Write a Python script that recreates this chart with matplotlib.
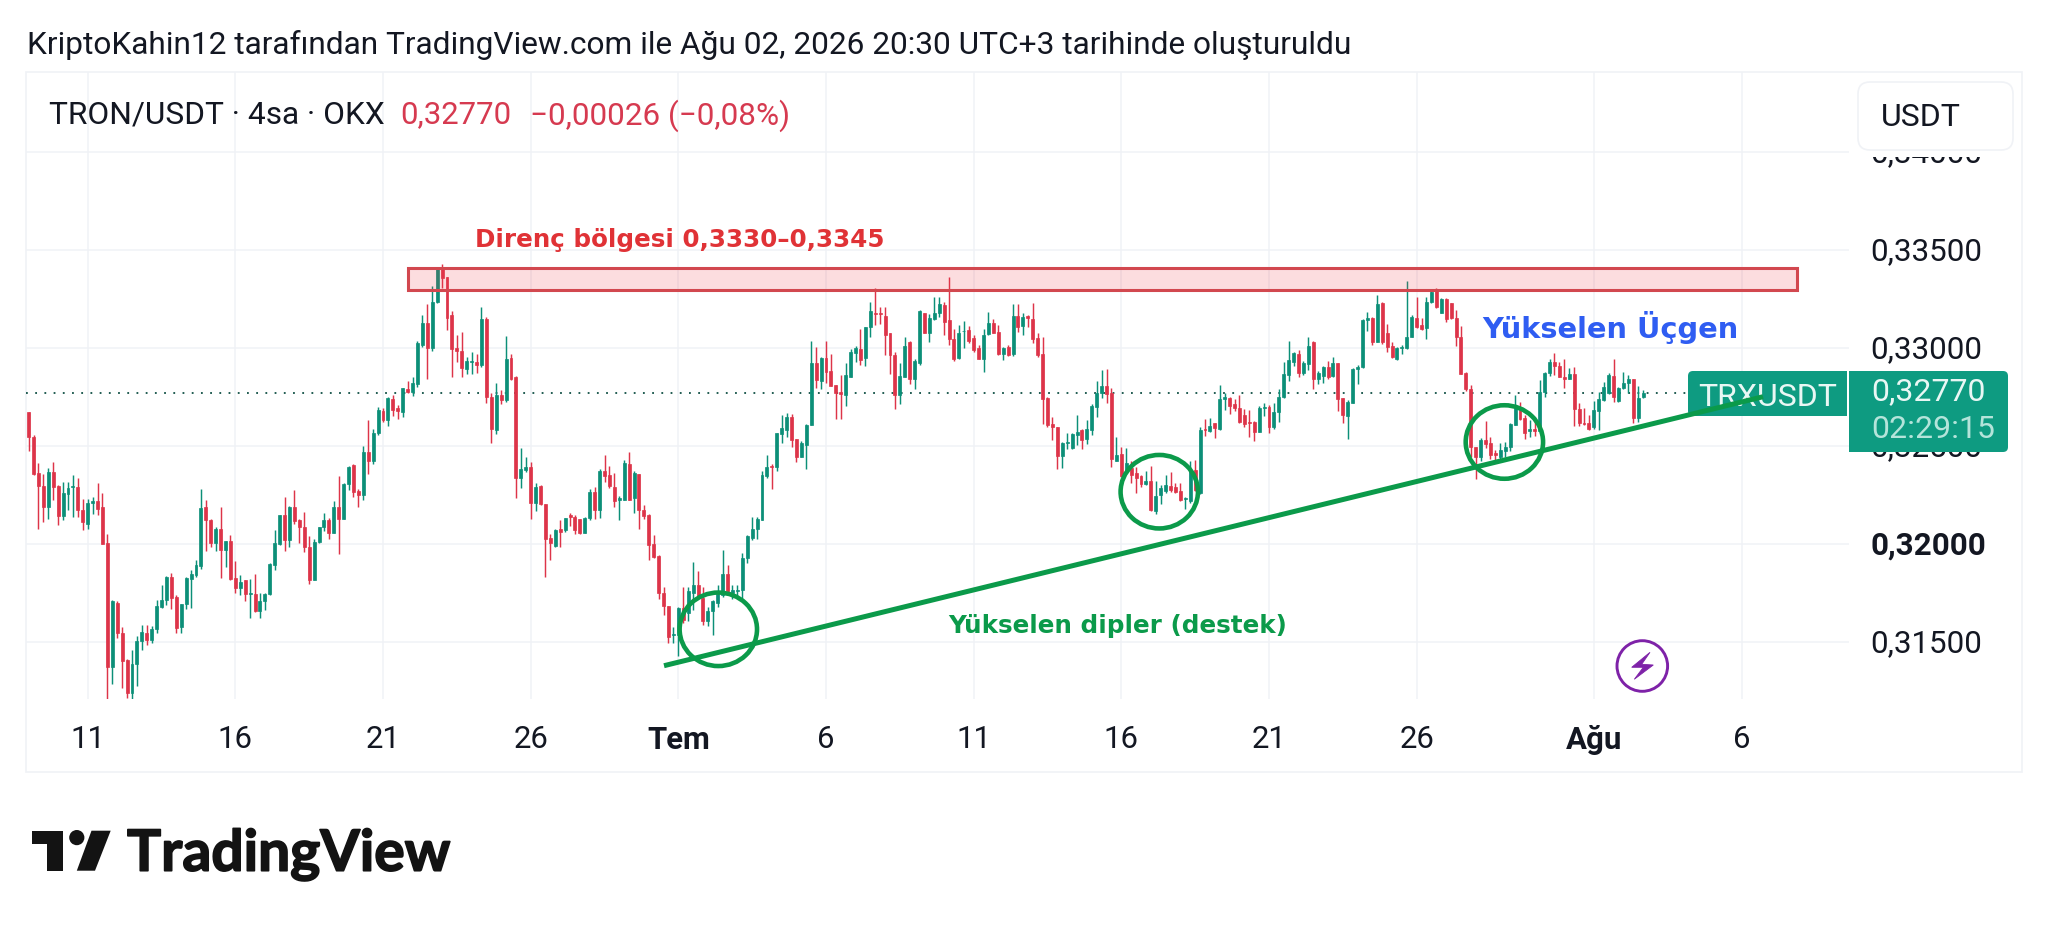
import numpy as np
import matplotlib
matplotlib.use("Agg")
import matplotlib.pyplot as plt
import matplotlib.patheffects as pe
from matplotlib.patches import Rectangle, Ellipse, Polygon, Circle, FancyBboxPatch
from matplotlib.transforms import ScaledTranslation

# ---- data: prices in 1e-5 USDT, one entry per 4h candle from 9 June ----
direction = ("RRRRGRRGGG" "RRGGRRRGRR" "RGGGRGGGGR" "RGGGGGRRGR" "GRRGRGRGGG" "GGRGRRRRGG"
             "GRGRGGRRGR" "GGRGRRGRGG" "GRGGRRRRRG" "GRGRRGRGRR" "GGRGRRRGRG" "RRRGGRGRRR"
             "GGRGRRRRRR" "RGGRGGRRGG" "GGRGGGGGGG" "GRGGGRRGGG" "RGRRRRGGGR" "GGRRRRRGGR"
             "GGRGGGRRRG" "GRRRGGRRGR" "GRGRRRRRRR" "GGGGRGGGGR" "RGRGRRRGRG" "GGRRRGGRGR"
             "GRGGRRRRRR" "GGRGGGGGRG" "GRGGRGRRGG" "GGGRGRRRGG" "GGRRGGRGRR" "RRRRRGRRRG"
             "GGGRRGRGGG" "RRRGRRRRGG" "GGRGGGRGG")
body_top = [
32676,32548,32361,32296,32366,32366,32296,32259,32284,32298,
32293,32174,32208,32220,32220,32188,32004,31710,31701,31548,
31406,31389,31506,31550,31548,31567,31684,31712,31831,31831,
31729,31695,31826,31848,31893,32183,32191,32123,32079,32075,
32013,32013,31826,31807,31814,31749,31746,31708,31744,31897,
32004,32148,32148,32188,32188,32120,32089,31984,32011,32086,
32120,32123,32191,32191,32307,32395,32403,32272,32470,32470,
32568,32684,32681,32743,32742,32692,32795,32791,32820,33024,
33126,33126,33233,33401,33406,33361,33167,33000,32987,32936,
32936,32931,33146,33146,32749,32761,32761,32946,32948,32851,
32381,32395,32392,32290,32296,32205,32030,32069,32075,32132,
32147,32140,32126,32135,32264,32264,32375,32373,32352,32293,
32234,32412,32409,32361,32356,32174,32148,32001,31939,31749,
31684,31540,31676,31673,31758,31792,31792,31723,31656,31707,
31746,31848,31848,31763,31766,31927,32041,32075,32126,32352,
32395,32398,32565,32590,32647,32650,32534,32514,32607,32925,
32925,32948,32948,32883,32812,32777,32863,32982,32999,32993,
33106,33189,33180,33177,33163,33075,32965,32857,33010,33032,
32936,33191,33177,33152,33180,33225,33220,33143,33044,33078,
33089,33092,33050,32999,33067,33126,33129,33083,33002,33004,
33163,33163,33160,33163,33146,33050,32970,32745,32613,32596,
32517,32522,32562,32574,32582,32585,32706,32772,32806,32806,
32772,32455,32460,32415,32386,32361,32347,32324,32324,32247,
32285,32302,32296,32290,32268,32237,32370,32378,32582,32587,
32602,32616,32740,32749,32743,32715,32692,32658,32625,32625,
32692,32701,32701,32676,32749,32868,32939,32976,32970,32922,
33010,33032,32871,32902,32905,32922,32922,32743,32723,32893,
32905,33143,33152,33155,33223,33231,33078,33010,32999,33007,
33058,33157,33152,33118,33237,33288,33293,33248,33250,33228,
33152,33058,32874,32789,32494,32531,32531,32514,32466,32480,
32497,32613,32693,32684,32642,32585,32585,32778,32874,32931,
32927,32908,32854,32868,32866,32687,32619,32616,32684,32738,
32803,32863,32857,32795,32823,32840,32840,32743,32770]
body_bottom = [
32548,32356,32296,32191,32191,32293,32143,32143,32257,32293,
32171,32113,32103,32208,32181,31999,31375,31375,31545,31404,
31239,31239,31389,31503,31511,31511,31567,31681,31712,31723,
31571,31576,31693,31820,31843,31889,32120,32007,32007,31967,
31967,31820,31775,31775,31744,31744,31656,31656,31707,31744,
31893,32001,32018,32018,32115,32089,31987,31817,31817,32009,
32086,32055,32055,32130,32130,32305,32266,32252,32250,32426,
32426,32568,32633,32633,32684,32681,32676,32778,32778,32817,
33016,32999,32999,33233,33356,33155,32993,32987,32897,32893,
32931,32914,32914,32749,32585,32582,32735,32735,32842,32339,
32336,32378,32211,32211,32205,32026,32007,31990,32063,32069,
32137,32072,32058,32058,32132,32171,32171,32347,32296,32217,
32222,32225,32225,32237,32171,32143,31996,31936,31749,31684,
31525,31535,31535,31613,31650,31749,31732,31605,31608,31656,
31701,31741,31758,31749,31759,31763,31927,32033,32075,32123,
32347,32395,32392,32562,32582,32531,32446,32446,32506,32607,
32837,32834,32876,32808,32769,32766,32761,32854,32976,32939,
32948,33106,33174,33174,33066,32965,32761,32761,32854,32840,
32840,32922,33078,33078,33146,33177,33135,33044,32942,32948,
33085,33038,32990,32944,32944,33070,33078,32968,32970,32965,
32968,33109,33112,33152,33044,32965,32742,32608,32596,32449,
32449,32517,32489,32557,32531,32534,32582,32701,32769,32766,
32432,32426,32347,32378,32352,32336,32307,32307,32171,32166,
32251,32268,32273,32264,32222,32232,32217,32273,32259,32582,
32579,32594,32589,32738,32704,32692,32625,32613,32616,32574,
32574,32692,32599,32599,32676,32749,32862,32931,32871,32871,
32919,32840,32840,32857,32854,32857,32740,32658,32655,32721,
32891,32902,33143,33032,33032,33032,33007,32953,32942,32999,
32999,33058,33106,33095,33101,33233,33211,33180,33148,33152,
33055,32868,32789,32494,32446,32446,32511,32455,32455,32443,
32477,32494,32608,32636,32568,32579,32577,32579,32778,32874,
32908,32854,32844,32844,32687,32616,32613,32587,32596,32681,
32735,32769,32752,32732,32795,32820,32642,32642,32748]
wick_high = [
32676,32556,32412,32356,32388,32417,32301,32317,32315,32351,
32336,32230,32230,32242,32313,32259,32052,31715,31707,31574,
31412,31457,31533,31587,31587,31582,31712,31790,31837,31851,
31739,31695,31834,31868,31917,32279,32222,32130,32089,32188,
32016,32045,31912,31844,31814,31820,31846,31749,31749,31902,
32072,32148,32239,32194,32273,32126,32164,32041,32026,32086,
32157,32135,32220,32349,32310,32398,32409,32279,32500,32633,
32585,32701,32692,32749,32761,32709,32798,32834,32851,33036,
33167,33223,33316,33406,33429,33364,33191,33067,33083,32956,
32982,32968,33208,33160,32772,32820,32786,33061,32968,32857,
32489,32446,32416,32310,32301,32205,32052,32079,32120,32135,
32160,32147,32126,32140,32279,32290,32385,32455,32398,32361,
32245,32429,32470,32375,32356,32200,32154,32047,31945,31783,
31684,31576,31681,31783,31783,31909,31860,31780,31681,31712,
31792,31970,31893,31792,31792,31956,32048,32140,32137,32375,
32455,32409,32568,32658,32670,32662,32538,32524,32611,33038,
33007,32953,33038,32968,32812,32863,32922,32993,33010,33095,
33109,33235,33305,33208,33208,33078,32982,32925,33055,33036,
32942,33194,33180,33174,33259,33259,33237,33364,33095,33118,
33138,33112,33067,33014,33099,33182,33148,33116,33007,33014,
33223,33223,33180,33169,33228,33078,33055,32749,32647,32599,
32522,32565,32568,32658,32585,32633,32713,32832,32888,32891,
32794,32545,32494,32492,32421,32395,32352,32370,32398,32319,
32302,32353,32366,32310,32313,32242,32421,32429,32596,32638,
32645,32619,32811,32772,32749,32738,32759,32687,32684,32628,
32704,32718,32709,32718,32793,32927,33038,32982,32990,32936,
33058,33036,32885,32908,32936,32953,32922,32743,32735,32897,
32912,33146,33186,33157,33272,33237,33123,33032,33007,33014,
33344,33170,33259,33152,33262,33299,33305,33254,33254,33228,
33194,33112,32880,32811,32497,32540,32630,32548,32480,32514,
32522,32616,32761,32727,32659,32633,32636,32837,32880,32942,
32973,32931,32946,32897,32902,32718,32696,32659,32732,32777,
32828,32871,32942,32803,32880,32863,32840,32806,32786]
wick_low = [
32477,32353,32075,32113,32126,32225,32099,32123,32174,32140,
32137,32069,32079,32154,32150,31999,31210,31287,31518,31265,
31214,31210,31278,31460,31484,31494,31548,31676,31690,31667,
31545,31545,31667,31674,31831,31873,31962,31984,31962,31826,
31882,31814,31749,31742,31707,31622,31654,31620,31664,31741,
31868,31996,31963,31984,32103,32007,31960,31797,31814,32007,
32065,32028,32055,31950,32126,32276,32239,32191,32222,32358,
32409,32555,32625,32602,32653,32636,32650,32772,32755,32800,
33007,32842,32987,33231,33305,33092,32854,32931,32854,32868,
32868,32874,32902,32718,32517,32562,32715,32727,32837,32234,
32285,32368,32126,32166,32200,31834,31916,31984,31987,32063,
32092,32052,32052,32055,32120,32130,32132,32318,32285,32188,
32123,32222,32225,32157,32075,32126,31916,31927,31718,31638,
31494,31494,31431,31596,31605,31664,31723,31588,31582,31537,
31681,31729,31752,31718,31723,31715,31905,32021,32024,32120,
32336,32279,32375,32517,32548,32497,32420,32443,32381,32607,
32795,32789,32820,32806,32636,32640,32704,32851,32931,32915,
32910,33058,33116,33123,32965,32866,32691,32713,32851,32817,
32789,32912,33075,33032,33143,33157,33067,33016,32934,32942,
32999,33024,32980,32942,32879,33067,33075,32965,32939,32961,
32961,33082,33067,33106,33024,32953,32613,32596,32531,32381,
32390,32483,32483,32506,32483,32511,32558,32650,32743,32718,
32395,32421,32344,32370,32310,32262,32290,32300,32166,32152,
32205,32262,32266,32259,32217,32179,32211,32268,32256,32551,
32574,32540,32582,32684,32662,32681,32616,32599,32545,32526,
32570,32653,32568,32585,32625,32747,32834,32908,32851,32862,
32888,32789,32817,32820,32840,32851,32681,32616,32534,32718,
32817,32900,33089,33014,33029,33021,32980,32951,32939,32970,
32995,33055,33101,33092,33048,33231,33206,33177,33131,33148,
33010,32866,32783,32446,32330,32426,32489,32432,32429,32429,
32446,32477,32608,32633,32534,32548,32551,32565,32752,32857,
32863,32851,32795,32842,32602,32602,32608,32582,32585,32582,
32732,32766,32726,32726,32789,32772,32616,32625,32744]

last_price = 0.32770
price_ticks = [0.315, 0.320, 0.325, 0.330, 0.335, 0.340]
price_labels = ["0,31500", "0,32000", "0,32500", "0,33000", "0,33500", "0,34000"]
# days counted from 0 June
day_ticks = [11, 16, 21, 26, 31, 36, 41, 46, 51, 56, 62, 67]
day_labels = ["11", "16", "21", "26", "Tem", "6", "11", "16", "21", "26", "Ağu", "6"]
resistance_zone = (0.33296, 0.33406)
resistance_days = (21.857, 68.87)
support_days = [30.515, 67.73]
support_prices = [0.313791, 0.327515]
touch_days = [32.354, 47.285, 58.971]
touch_prices = [0.315648, 0.322668, 0.325204]

# ---- styles ----
RED = "#dd3449"
GREEN = "#0c8f78"
TEAL = "#0e9b81"
LINE_GREEN = "#0b9a4a"
GRID = "#f0f2f6"
INK = "#131722"
W, H = 2048, 932
FONT = "Roboto"

fig = plt.figure(figsize=(W / 100, H / 100), dpi=100, facecolor="white")
rect = [26 / W, 1 - 699 / H, (1849 - 26) / W, (699 - 72) / H]
xlim = (8.911, 70.64)
ylim = (0.312092, 0.344082)

bg = fig.add_axes([0, 0, 1, 1], zorder=0)
bg.set_xlim(0, W); bg.set_ylim(H, 0); bg.axis("off")
bg.add_patch(Rectangle((26, 71.5), 1996, 700, fc="white", ec="#f0f2f6", lw=1.2))

ax = fig.add_axes(rect, zorder=1, facecolor="none")
ax.set_xlim(*xlim); ax.set_ylim(*ylim)
for s in ax.spines.values():
    s.set_visible(False)
ax.set_axisbelow(True)
ax.grid(True, color=GRID, lw=1.1)
ax.yaxis.tick_right()
ax.set_yticks(price_ticks, price_labels)
ax.set_xticks(day_ticks, day_labels)
ax.tick_params(axis="y", length=0, pad=15.5, labelsize=22.6, labelcolor=INK)
ax.tick_params(axis="x", length=0, pad=18.5, labelsize=22.4, labelcolor=INK)
for t in ax.get_xticklabels() + ax.get_yticklabels():
    t.set_fontfamily(FONT)
    if t.get_text() in ("Tem", "Ağu", "0,32000"):
        t.set_fontweight("bold")
nudge = ScaledTranslation(0, 1.3 / 100, fig.dpi_scale_trans)
for t in ax.get_yticklabels():
    t.set_verticalalignment("center_baseline")
    t.set_transform(t.get_transform() + nudge)

# candles
days = 9 + np.arange(len(body_top)) / 6
top = np.array(body_top) / 1e5
bot = np.array(body_bottom) / 1e5
hi = np.array(wick_high) / 1e5
lo = np.array(wick_low) / 1e5
cols = [RED if d == "R" else GREEN for d in direction]
ax.vlines(days, lo, hi, colors=cols, lw=1.05, zorder=3)
ax.bar(days, top - bot, bottom=bot, width=0.1, color=cols, edgecolor=cols, lw=0.5, zorder=3)

# last price line and resistance zone
ax.plot(xlim, [last_price, last_price], color="#0f4f44", lw=1.3, ls=(0, (1, 4.1)), zorder=2)
ax.add_patch(Rectangle((resistance_days[0], resistance_zone[0]),
                       resistance_days[1] - resistance_days[0],
                       resistance_zone[1] - resistance_zone[0],
                       fc=(0.95, 0.21, 0.27, 0.17), ec="none", zorder=4))
ax.add_patch(Rectangle((resistance_days[0], resistance_zone[0]),
                       resistance_days[1] - resistance_days[0],
                       resistance_zone[1] - resistance_zone[0],
                       fc="none", ec="#d2484f", lw=2.2, zorder=5))

# ---- pixel overlay: header, badges, logo ----
px = fig.add_axes([0, 0, 1, 1], zorder=2, facecolor="none")
px.set_xlim(0, W); px.set_ylim(H, 0); px.axis("off")


def label(x, y, s, size, color=INK, ha="left", weight="normal", family=FONT):
    return px.text(x, y, s, fontsize=size, color=color, ha=ha, va="center_baseline",
                   fontweight=weight, family=family)


label(27, 42, "KriptoKahin12 tarafından TradingView.com ile Ağu 02, 2026 20:30 UTC+3 tarihinde oluşturuldu", 22.75)
label(49, 112, "TRON/USDT · 4sa · OKX", 22.8)
HEAD_RED = "#d63a50"
label(400, 112, "0,32770", 22.4, HEAD_RED)
label(530, 112, "−0,00026 (−0,08%)", 22.7, HEAD_RED)

px.add_patch(Rectangle((1855, 73), 165, 84, fc="white", ec="none"))
px.add_patch(FancyBboxPatch((1864, 88), 143, 56, boxstyle="round,pad=6,rounding_size=12",
                            fc="white", ec="#f0f2f6", lw=1.2))
label(1881, 115, "USDT", 23)

label(475, 238, "Direnç bölgesi 0,3330–0,3345", 17.7, "#e03236", weight="bold", family="DejaVu Sans")
label(1482, 325, "Yükselen Üçgen", 20.8, "#2f5df2", weight="bold", family="DejaVu Sans")
label(948, 624, "Yükselen dipler (destek)", 17.7, LINE_GREEN, weight="bold", family="DejaVu Sans")

# price badges
px.add_patch(FancyBboxPatch((1693, 376), 160, 35, boxstyle="round,pad=5,rounding_size=5", fc=TEAL, ec="none"))
px.add_patch(Rectangle((1847, 365), 14, 55, fc="white", ec="none", zorder=2))
px.add_patch(Rectangle((1840, 371), 7, 45, fc=TEAL, ec="none", zorder=2))
px.add_patch(FancyBboxPatch((1854, 376), 149, 71, boxstyle="round,pad=5,rounding_size=5", fc=TEAL, ec="none", zorder=2.1))
px.add_patch(Rectangle((1849, 371), 12, 81, fc=TEAL, ec="none", zorder=2.1))
for t_x, t_y, s, c in [(1698, 394, "TRXUSDT", "#e9f7f4"), (1871, 389, "0,32770", "#e9f7f4"),
                       (1871, 426, "02:29:15", "#b4e4da")]:
    px.text(t_x, t_y, s, fontsize=23, color=c, ha="left", va="center_baseline", family=FONT, zorder=3)

# TradingView logo
LOGO = "#131313"
px.add_patch(Polygon([(32, 830.7), (63.4, 830.7), (63.4, 870.7), (47, 870.7), (47, 844), (32, 844)], fc=LOGO, ec="none"))
px.add_patch(Circle((76.8, 837.6), 7.6, fc=LOGO, ec="none"))
px.add_patch(Polygon([(91.5, 830.7), (110.7, 830.7), (95, 870.7), (76.8, 870.7)], fc=LOGO, ec="none"))
logo_text = px.text(127, 870.7, "TradingView", fontsize=41, fontweight="bold", family="Lato", color=LOGO,
                    ha="left", va="baseline")
logo_text.set_path_effects([pe.withStroke(linewidth=1.2, foreground=LOGO)])

# lightning badge
PURPLE = "#7e22a8"
px.add_patch(Circle((1642.3, 666), 25.3, fc="white", ec=PURPLE, lw=2.1))
px.add_patch(Polygon([(1650, 652.3), (1631.7, 667.3), (1643.3, 667.3), (1634.3, 679.3), (1653.3, 665), (1641.7, 664.3)],
                     fc=PURPLE, ec=PURPLE, lw=0.6))

# ---- annotations on top ----
top_ax = fig.add_axes(rect, zorder=3, facecolor="none")
top_ax.set_xlim(*xlim); top_ax.set_ylim(*ylim); top_ax.axis("off")
top_ax.plot(support_days, support_prices, color=LINE_GREEN, lw=3.6, solid_capstyle="butt")
for d, p in zip(touch_days, touch_prices):
    top_ax.add_patch(Ellipse((d, p), 2.62, 0.00375, fc="none", ec=LINE_GREEN, lw=3.3))

fig.savefig("out.png", dpi=100, facecolor="white")
